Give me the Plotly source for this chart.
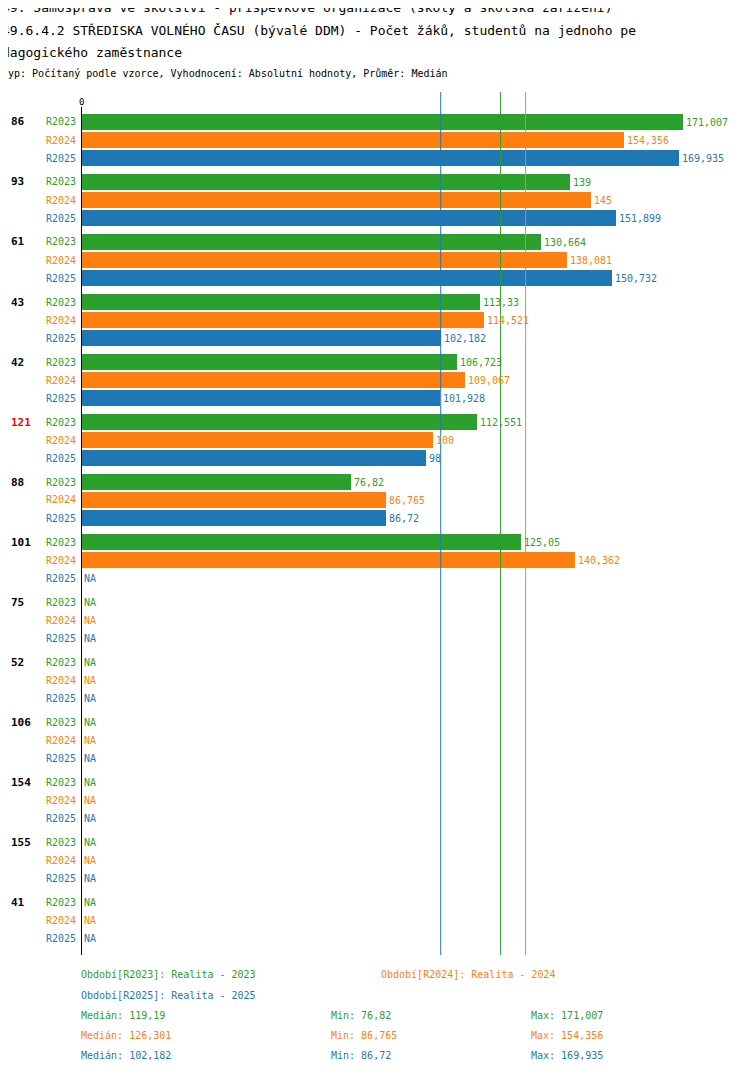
import plotly.graph_objects as go

# ── DATA ──────────────────────────────────────────────────────
groups = ['86', '93', '61', '43', '42', '121', '88', '101', '75', '52', '106', '154', '155', '41']
highlight = '121'
series = ['R2023', 'R2024', 'R2025']
colors = {'R2023': '#2ca02c', 'R2024': '#ff7f0e', 'R2025': '#1f77b4'}
r2023 = [171.007, 139, 130.664, 113.33, 106.723, 112.551, 76.82, 125.05, None, None, None, None, None, None]
r2024 = [154.356, 145, 138.081, 114.521, 109.067, 100, 86.765, 140.362, None, None, None, None, None, None]
r2025 = [169.935, 151.899, 150.732, 102.182, 101.928, 98, 86.72, None, None, None, None, None, None, None]
values = {'R2023': r2023, 'R2024': r2024, 'R2025': r2025}
stats = {  # median, min, max
    'R2023': (119.19, 76.82, 171.007),
    'R2024': (126.301, 86.765, 154.356),
    'R2025': (102.182, 86.72, 169.935),
}
legend_names = {'R2023': 'Období[R2023]: Realita - 2023',
                'R2024': 'Období[R2024]: Realita - 2024',
                'R2025': 'Období[R2025]: Realita - 2025'}

FONT = 'DejaVu Sans Mono'
W, H = 750, 1074
OFF = 8               # page body margin
L, R = 81, 683        # plot edges in page pixels
TOP, BOT = 112, 955
XMAX = 171.007


def fmt(v):
    s = f'{v:.3f}'.rstrip('0').rstrip('.')
    return s.replace('.', ',')


def px(p):
    return (p - L) / (R - L)


def py(p):
    return (BOT - p) / (BOT - TOP)


def text(xp, yp, t, color='black', size=10, anchor='left'):
    return dict(xref='paper', yref='paper', x=px(xp), y=py(yp), text=t, xanchor=anchor,
                yanchor='middle', showarrow=False, font=dict(color=color, size=size))


fig = go.Figure()
ann = []

for si, s in enumerate(series):
    ys = [122 + 60 * g + 18 * si for g in range(len(groups))]
    xs = [v if v is not None else 0 for v in values[s]]
    fig.add_trace(go.Bar(x=xs, y=ys, orientation='h', width=16,
                         marker=dict(color=colors[s], line=dict(width=0)),
                         showlegend=False, hoverinfo='skip'))
    for g, v in enumerate(values[s]):
        ann.append(text(78, ys[g], s, colors[s], anchor='right'))
        ann.append(dict(x=v if v is not None else 0, y=ys[g],
                        text=fmt(v) if v is not None else 'NA',
                        xanchor='left', xshift=1, showarrow=False,
                        font=dict(color=colors[s], size=10)))

for g, name in enumerate(groups):
    ann.append(text(9, 122 + 60 * g, f'<b>{name}</b>',
                    'red' if name == highlight else 'black', size=11))

# median lines
shapes = []
for s in series:
    shapes.append(dict(type='line', x0=stats[s][0], x1=stats[s][0], y0=py(TOP - 20), y1=0,
                       xref='x', yref='paper', line=dict(color=colors[s], width=1)))
shapes.append(dict(type='line', x0=0, x1=0, y0=py(TOP - 5), y1=0, xref='x', yref='paper',
                   line=dict(color='black', width=2)))
ann.append(text(81, 102, '0', size=9, anchor='center'))

# legend / stats text
ann.append(text(79, 975, legend_names['R2023'], colors['R2023']))
ann.append(text(379, 975, legend_names['R2024'], colors['R2024']))
ann.append(text(79, 995, legend_names['R2025'], colors['R2025']))
for si, s in enumerate(series):
    yy = 1015 + 20 * si
    med, mn, mx = stats[s]
    for xp, t in [(79, f'Medián: {fmt(med)}'), (329, f'Min: {fmt(mn)}'), (529, f'Max: {fmt(mx)}')]:
        ann.append(text(xp, yy, t, colors[s]))

# titles
titles = ['49. Samospráva ve školství - příspěvkové organizace (školy a školská zařízení)',
          '49.6.4.2 STŘEDISKA VOLNÉHO ČASU (bývalé DDM) - Počet žáků, studentů na jednoho pe',
          'dagogického zaměstnance']
for i, t in enumerate(titles):
    ann.append(text(0, 8 + 22 * i, t, size=13))
ann.append(text(0, 73, 'Typ: Počítaný podle vzorce, Vyhodnocení: Absolutní hodnoty, Průměr: Medián', size=10))

fig.update_layout(
    width=W, height=H, plot_bgcolor='white', paper_bgcolor='white',
    margin=dict(l=L - OFF, r=W - R + OFF, t=TOP - OFF, b=H - BOT + OFF),
    font=dict(family=FONT, color='black'),
    xaxis=dict(range=[0, XMAX], visible=False),
    yaxis=dict(range=[BOT, TOP], visible=False),
    bargap=0, annotations=ann, shapes=shapes,
)
fig.write_html('out.html')
